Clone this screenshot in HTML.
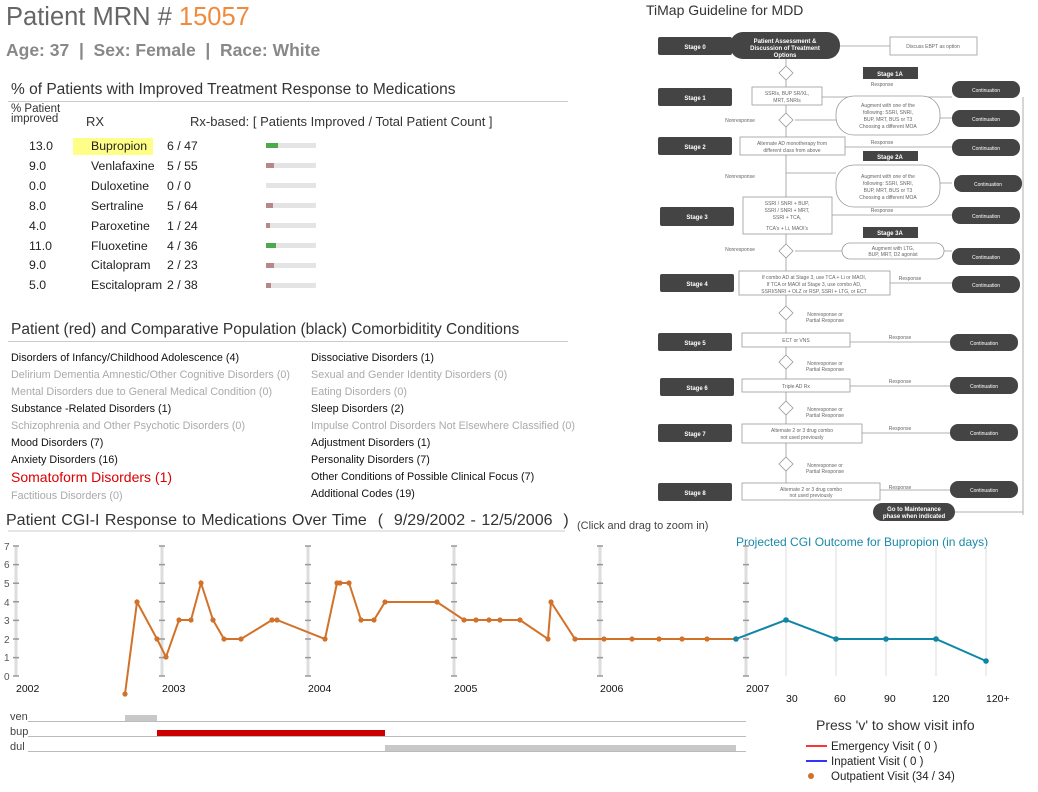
<!DOCTYPE html>
<html><head><meta charset="utf-8"><style>
body{margin:0;width:1038px;height:792px;background:#fff;font-family:"Liberation Sans",sans-serif;position:relative;overflow:hidden}
.a{position:absolute;white-space:nowrap}
.r{font-size:12.3px;color:#222}
.c{font-size:10.8px;color:#111}
.g{color:#aaa}
.bar{position:absolute;left:266px;width:50px;height:5px;background:#e4e4e4}
.bar i{display:block;height:5px}
</style></head><body>
<div class="a" style="left:6px;top:3px;font-size:25.5px;color:#666">Patient MRN # <span style="color:#f08a3c">15057</span></div>
<div class="a" style="left:6px;top:40px;font-size:17.5px;font-weight:bold;color:#888">Age: 37 &nbsp;| &nbsp;Sex: Female &nbsp;| &nbsp;Race: White</div>
<div class="a" style="left:11px;top:81px;font-size:15.5px;color:#333">% of Patients with Improved Treatment Response to Medications</div>
<div class="a" style="left:8px;top:101px;width:560px;height:1px;background:#ccc"></div>
<div class="a" style="left:11px;top:104px;font-size:11.5px;color:#333;line-height:10px">% Patient<br>improved</div>
<div class="a" style="left:86px;top:114px;font-size:13px;color:#333">RX</div>
<div class="a" style="left:190px;top:114px;font-size:13px;color:#333">Rx-based: [ Patients Improved / Total Patient Count ]</div>
<div class="a" style="left:73px;top:138px;width:80px;height:17px;background:#ffff88"></div>
<div class="a r" style="left:29px;top:137px;line-height:19.9px">13.0<br>9.0<br>0.0<br>8.0<br>4.0<br>11.0<br>9.0<br>5.0</div>
<div class="a r" style="left:91px;top:137px;line-height:19.9px">Bupropion<br>Venlafaxine<br>Duloxetine<br>Sertraline<br>Paroxetine<br>Fluoxetine<br>Citalopram<br>Escitalopram</div>
<div class="a r" style="left:167px;top:137px;line-height:19.9px">6 / 47<br>5 / 55<br>0 / 0<br>5 / 64<br>1 / 24<br>4 / 36<br>2 / 23<br>2 / 38</div>
<div class="bar" style="top:143px"><i style="width:12px;background:#4caa4c"></i></div>
<div class="bar" style="top:163px"><i style="width:8px;background:#b88888"></i></div>
<div class="bar" style="top:183px"></div>
<div class="bar" style="top:203px"><i style="width:7px;background:#b88888"></i></div>
<div class="bar" style="top:223px"><i style="width:4px;background:#b88888"></i></div>
<div class="bar" style="top:243px"><i style="width:10px;background:#4caa4c"></i></div>
<div class="bar" style="top:263px"><i style="width:8px;background:#b88888"></i></div>
<div class="bar" style="top:283px"><i style="width:5px;background:#b88888"></i></div>

<div class="a" style="left:11px;top:321px;font-size:15.5px;color:#333">Patient (red) and Comparative Population (black) Comorbiditity Conditions</div>
<div class="a" style="left:8px;top:341px;width:560px;height:1px;background:#ccc"></div>
<div class="a c" style="left:11px;top:350px;line-height:17px">Disorders of Infancy/Childhood Adolescence (4)<br><span class="g">Delirium Dementia Amnestic/Other Cognitive Disorders (0)</span><br><span class="g">Mental Disorders due to General Medical Condition (0)</span><br>Substance -Related Disorders (1)<br><span class="g">Schizophrenia and Other Psychotic Disorders (0)</span><br>Mood Disorders (7)<br>Anxiety Disorders (16)<br><span style="color:#d00;font-size:14px">Somatoform Disorders (1)</span><br><span class="g">Factitious Disorders (0)</span></div>
<div class="a c" style="left:311px;top:350px;line-height:17px">Dissociative Disorders (1)<br><span class="g">Sexual and Gender Identity Disorders (0)</span><br><span class="g">Eating Disorders (0)</span><br>Sleep Disorders (2)<br><span class="g">Impulse Control Disorders Not Elsewhere Classified (0)</span><br>Adjustment Disorders (1)<br>Personality Disorders (7)<br>Other Conditions of Possible Clinical Focus (7)<br>Additional Codes (19)</div>

<div class="a" style="left:6px;top:512px;font-size:16px;color:#333;word-spacing:1px">Patient CGI-I Response to Medications Over Time &nbsp;( &nbsp;9/29/2002 - 12/5/2006 &nbsp;)</div>
<div class="a" style="left:577px;top:520px;font-size:11px;color:#444">(Click and drag to zoom in)</div>
<div class="a" style="left:736px;top:535px;font-size:12px;color:#1a8aa8">Projected CGI Outcome for Bupropion (in days)</div>
<div class="a" style="left:646px;top:2px;font-size:14px;color:#333">TiMap Guideline for MDD</div>

<svg class="a" style="left:0;top:0" width="1038" height="792" font-family="Liberation Sans, sans-serif">
<line x1="8" y1="531" x2="565" y2="531" stroke="#ccc"/>
<g stroke="#ddd" stroke-width="3">
<line x1="16" y1="546" x2="16" y2="676"/><line x1="162" y1="546" x2="162" y2="676"/><line x1="308" y1="546" x2="308" y2="676"/><line x1="454" y1="546" x2="454" y2="676"/><line x1="600" y1="546" x2="600" y2="676"/><line x1="746" y1="546" x2="746" y2="676"/></g>
<g stroke="#999" stroke-width="1.5">
<path d="M13 546h6M13 564.6h6M13 583.2h6M13 601.8h6M13 620.4h6M13 639h6M13 657.6h6M13 676h6"/>
<path d="M159 546h6M159 564.6h6M159 583.2h6M159 601.8h6M159 620.4h6M159 639h6M159 657.6h6M159 676h6"/>
<path d="M305 546h6M305 564.6h6M305 583.2h6M305 601.8h6M305 620.4h6M305 639h6M305 657.6h6M305 676h6"/>
<path d="M451 546h6M451 564.6h6M451 583.2h6M451 601.8h6M451 620.4h6M451 639h6M451 657.6h6M451 676h6"/>
<path d="M597 546h6M597 564.6h6M597 583.2h6M597 601.8h6M597 620.4h6M597 639h6M597 657.6h6M597 676h6"/>
<path d="M743 546h6M743 564.6h6M743 583.2h6M743 601.8h6M743 620.4h6M743 639h6M743 657.6h6M743 676h6"/></g>
<g font-size="10" fill="#555"><text x="4" y="550">7</text><text x="4" y="568">6</text><text x="4" y="587">5</text><text x="4" y="606">4</text><text x="4" y="624">3</text><text x="4" y="643">2</text><text x="4" y="661">1</text><text x="4" y="680">0</text></g>
<g font-size="10.5" fill="#111"><text x="16" y="692">2002</text><text x="162" y="692">2003</text><text x="308" y="692">2004</text><text x="454" y="692">2005</text><text x="600" y="692">2006</text><text x="746" y="692">2007</text>
<text x="786" y="702">30</text><text x="834" y="702">60</text><text x="884" y="702">90</text><text x="932" y="702">120</text><text x="986" y="702">120+</text></g>
<g stroke="#ddd"><line x1="786" y1="546" x2="786" y2="676"/><line x1="836" y1="546" x2="836" y2="676"/><line x1="886" y1="546" x2="886" y2="676"/><line x1="936" y1="546" x2="936" y2="676"/><line x1="986" y1="546" x2="986" y2="676"/></g>
<polyline fill="none" stroke="#d2722a" stroke-width="2" points="125,694 137,602 157,639 166,657 179,620 191,620 201,583 213,620 224,639 241,639 272,620 277,620 325,639 337,583 340,583 349,583 361,620 374,620 385,602 437,602 464,620 476,620 489,620 500,620 520,620 548,639 551,602 575,639 604,639 632,639 659,639 682,639 707,639 736,639"/>
<g fill="#d2722a"><circle cx="125" cy="694" r="2.6"/><circle cx="137" cy="602" r="2.6"/><circle cx="157" cy="639" r="2.6"/><circle cx="166" cy="657" r="2.6"/><circle cx="179" cy="620" r="2.6"/><circle cx="191" cy="620" r="2.6"/><circle cx="201" cy="583" r="2.6"/><circle cx="213" cy="620" r="2.6"/><circle cx="224" cy="639" r="2.6"/><circle cx="241" cy="639" r="2.6"/><circle cx="272" cy="620" r="2.6"/><circle cx="277" cy="620" r="2.6"/><circle cx="325" cy="639" r="2.6"/><circle cx="337" cy="583" r="2.6"/><circle cx="340" cy="583" r="2.6"/><circle cx="349" cy="583" r="2.6"/><circle cx="361" cy="620" r="2.6"/><circle cx="374" cy="620" r="2.6"/><circle cx="385" cy="602" r="2.6"/><circle cx="437" cy="602" r="2.6"/><circle cx="464" cy="620" r="2.6"/><circle cx="476" cy="620" r="2.6"/><circle cx="489" cy="620" r="2.6"/><circle cx="500" cy="620" r="2.6"/><circle cx="520" cy="620" r="2.6"/><circle cx="548" cy="639" r="2.6"/><circle cx="551" cy="602" r="2.6"/><circle cx="575" cy="639" r="2.6"/><circle cx="604" cy="639" r="2.6"/><circle cx="632" cy="639" r="2.6"/><circle cx="659" cy="639" r="2.6"/><circle cx="682" cy="639" r="2.6"/><circle cx="707" cy="639" r="2.6"/></g>
<polyline fill="none" stroke="#0e86a6" stroke-width="2" points="736,639 786,620 836,639 886,639 936,639 986,661"/>
<g fill="#0e86a6"><circle cx="736" cy="639" r="2.8"/><circle cx="786" cy="620" r="2.8"/><circle cx="836" cy="639" r="2.8"/><circle cx="886" cy="639" r="2.8"/><circle cx="936" cy="639" r="2.8"/><circle cx="986" cy="661" r="2.8"/></g>
<g stroke="#bbb"><line x1="28" y1="721.5" x2="746" y2="721.5"/><line x1="28" y1="736.5" x2="746" y2="736.5"/><line x1="28" y1="751.5" x2="746" y2="751.5"/></g>
<rect x="125" y="715" width="32" height="6" fill="#c8c8c8"/>
<rect x="157" y="730" width="228" height="6" fill="#cc0000"/>
<rect x="385" y="745" width="351" height="6" fill="#c8c8c8"/>
<g font-size="11" fill="#444"><text x="10" y="720">ven</text><text x="10" y="735">bup</text><text x="10" y="750">dul</text></g>
<text x="816" y="730" font-size="14" fill="#333">Press 'v' to show visit info</text>
<line x1="806" y1="746" x2="827" y2="746" stroke="#f33" stroke-width="2"/>
<line x1="806" y1="761" x2="827" y2="761" stroke="#33f" stroke-width="2"/>
<circle cx="811" cy="776" r="3" fill="#d2722a"/>
<g font-size="11.5" fill="#222"><text x="831" y="750">Emergency Visit ( 0 )</text><text x="831" y="765">Inpatient Visit ( 0 )</text><text x="831" y="780">Outpatient Visit (34 / 34)</text></g>

<g stroke="#999" fill="none" stroke-width="0.8">
<line x1="786" y1="59" x2="786" y2="492"/>
<line x1="1023" y1="97" x2="1023" y2="515"/><line x1="955" y1="512" x2="1023" y2="512"/>
<line x1="840" y1="46" x2="890" y2="46"/>
<path d="M822 97H952M940 118H952M845 147H952M940 183H952M832 215H952M944 251H952M890 283H952M850 342H952M850 386H952M862 433H952M880 490H952"/>
<path d="M795 120H836M786 173H836M795 251H842"/>
<g fill="#fff"><path d="M786 66l7 7-7 7-7-7z"/><path d="M786 113l7 7-7 7-7-7z"/><path d="M786 244l7 7-7 7-7-7z"/><path d="M786 306l7 7-7 7-7-7z"/><path d="M786 355l7 7-7 7-7-7z"/><path d="M786 401l7 7-7 7-7-7z"/><path d="M786 457l7 7-7 7-7-7z"/>
<rect x="890" y="37" width="87" height="18"/><rect x="752" y="87" width="70" height="18"/><rect x="740" y="137" width="105" height="18"/><rect x="743" y="197" width="89" height="37"/><rect x="739" y="271" width="151" height="24"/><rect x="742" y="333" width="108" height="14"/><rect x="742" y="379" width="108" height="13"/><rect x="742" y="424" width="120" height="19"/><rect x="742" y="483" width="138" height="17"/>
<rect x="836" y="96" width="104" height="39" rx="18"/><rect x="836" y="165" width="104" height="42" rx="18"/><rect x="842" y="243" width="102" height="16" rx="8"/></g></g>
<g fill="#444">
<rect x="658" y="37" width="74" height="18" rx="2"/><rect x="658" y="88" width="74" height="18" rx="2"/><rect x="658" y="137" width="74" height="18" rx="2"/><rect x="660" y="207" width="74" height="19" rx="2"/><rect x="660" y="274" width="74" height="18" rx="2"/><rect x="658" y="333" width="74" height="18" rx="2"/><rect x="660" y="378" width="74" height="18" rx="2"/><rect x="658" y="424" width="74" height="18" rx="2"/><rect x="658" y="483" width="74" height="18" rx="2"/>
<rect x="730" y="32" width="110" height="27" rx="13"/>
<rect x="863" y="67" width="55" height="12"/><rect x="863" y="151" width="55" height="10"/><rect x="863" y="227" width="55" height="11"/>
<rect x="952" y="81" width="68" height="17" rx="8"/><rect x="952" y="110" width="68" height="17" rx="8"/><rect x="952" y="139" width="68" height="17" rx="8"/><rect x="954" y="175" width="68" height="17" rx="8"/><rect x="952" y="207" width="68" height="17" rx="8"/><rect x="952" y="248" width="68" height="17" rx="8"/><rect x="952" y="276" width="68" height="17" rx="8"/><rect x="950" y="334" width="68" height="17" rx="8"/><rect x="950" y="377" width="68" height="17" rx="8"/><rect x="950" y="424" width="68" height="17" rx="8"/><rect x="950" y="481" width="68" height="17" rx="8"/>
<rect x="873" y="503" width="82" height="18" rx="9"/></g>
<g font-size="6" fill="#fff" font-weight="bold" text-anchor="middle">
<text x="695" y="49">Stage 0</text><text x="695" y="100">Stage 1</text><text x="695" y="149">Stage 2</text><text x="697" y="219">Stage 3</text><text x="697" y="286">Stage 4</text><text x="695" y="345">Stage 5</text><text x="697" y="390">Stage 6</text><text x="695" y="436">Stage 7</text><text x="695" y="495">Stage 8</text>
<text x="785" y="43">Patient Assessment &amp;</text><text x="785" y="50">Discussion of Treatment</text><text x="785" y="57">Options</text>
<text x="890" y="76">Stage 1A</text><text x="890" y="159">Stage 2A</text><text x="890" y="235">Stage 3A</text>
<text x="914" y="511">Go to Maintenance</text><text x="914" y="518">phase when indicated</text></g>
<g font-size="5" fill="#fff" text-anchor="middle"><text x="986" y="92">Continuation</text><text x="986" y="121">Continuation</text><text x="986" y="150">Continuation</text><text x="988" y="186">Continuation</text><text x="986" y="218">Continuation</text><text x="986" y="259">Continuation</text><text x="986" y="287">Continuation</text><text x="984" y="345">Continuation</text><text x="984" y="388">Continuation</text><text x="984" y="435">Continuation</text><text x="984" y="492">Continuation</text></g>
<g font-size="5" fill="#666" text-anchor="middle">
<text x="933" y="48">Discuss EBPT as option</text><text x="787" y="95">SSRIs, BUP SR/XL,</text><text x="787" y="102">MRT, SNRIs</text>
<text x="888" y="107">Augment with one of the</text><text x="888" y="114">following: SSRI, SNRI,</text><text x="888" y="121">BUP, MRT, BUS or T3</text><text x="888" y="128">Choosing a different MOA</text>
<text x="792" y="145">Alternate AD monotherapy from</text><text x="792" y="152">different class from above</text>
<text x="888" y="178">Augment with one of the</text><text x="888" y="185">following: SSRI, SNRI,</text><text x="888" y="192">BUP, MRT, BUS or T3</text><text x="888" y="199">Choosing a different MOA</text>
<text x="787" y="205">SSRI / SNRI + BUP,</text><text x="787" y="212">SSRI / SNRI + MRT,</text><text x="787" y="219">SSRI + TCA,</text><text x="787" y="230">TCA's + Li, MAOI's</text>
<text x="893" y="250">Augment with LTG,</text><text x="893" y="256">BUP, MRT, D2 agonist</text>
<text x="814" y="279">If combo AD at Stage 3, use TCA + Li or MAOI,</text><text x="814" y="286">If TCA or MAOI at Stage 3, use combo AD,</text><text x="814" y="293">SSRI/SNRI + OLZ or RSP, SSRI + LTG, or ECT</text>
<text x="796" y="342">ECT or VNS</text><text x="796" y="388">Triple AD Rx</text><text x="802" y="432">Alternate 2 or 3 drug combo</text><text x="802" y="439">not used previously</text><text x="811" y="491">Alternate 2 or 3 drug combo</text><text x="811" y="497">not used previously</text>
<text x="882" y="86">Response</text><text x="882" y="144">Response</text><text x="882" y="212">Response</text><text x="910" y="280">Response</text><text x="900" y="339">Response</text><text x="900" y="383">Response</text><text x="900" y="430">Response</text><text x="900" y="489">Response</text>
<text x="740" y="122">Nonresponse</text><text x="740" y="178">Nonresponse</text><text x="740" y="251">Nonresponse</text>
<text x="825" y="316">Nonresponse or</text><text x="825" y="322">Partial Response</text><text x="825" y="365">Nonresponse or</text><text x="825" y="371">Partial Response</text><text x="825" y="411">Nonresponse or</text><text x="825" y="417">Partial Response</text><text x="825" y="467">Nonresponse or</text><text x="825" y="473">Partial Response</text></g>
</svg>
</body></html>
